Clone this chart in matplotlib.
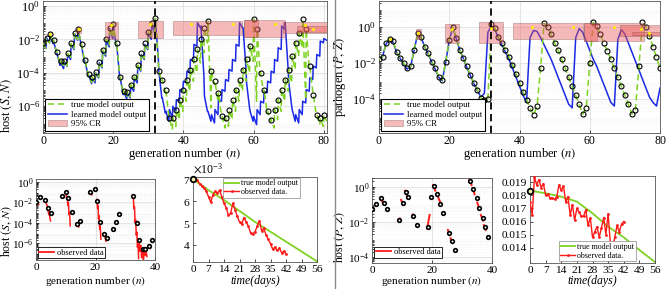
import numpy as np
import matplotlib
matplotlib.use('Agg')
import matplotlib.pyplot as plt
from matplotlib.patches import Rectangle, Patch
from matplotlib.lines import Line2D
from matplotlib.ticker import LogLocator, FixedLocator, NullFormatter, LogFormatterMathtext, FormatStrFormatter

plt.rcParams['font.family'] = ['Liberation Serif', 'DejaVu Serif']
plt.rcParams['mathtext.fontset'] = 'stix'

# ---------------- data (log10 values for log panels) ----------------
host_true = [-2.24,-1.9,-1.7,-2.04,-2.78,-3.28,-3.28,-2.84,-2.24,-1.6,
             -1.35,-2.3,-3.24,-4.08,-4.24,-3.94,-3.34,-2.64,-1.98,-1.3,
             -1.05,-2.2,-4.24,-5.08,-5.14,-4.7,-4.24,-3.54,-2.84,-2.24,
             -1.54,-1.04,-0.74,-3.9,-4.4,-5.0,-6.7,-6.7,-6.2,-5.6,
             -5.0,-4.4,-3.8,-3.2,-2.6,-2.0,-1.3,-0.9,-3.9,-4.5,
             -5.2,-6.6,-6.7,-6.2,-5.6,-5.0,-4.4,-3.8,-3.2,-2.4,
             -0.8,-1.4,-4.0,-5.0,-6.3,-6.8,-6.2,-5.6,-5.0,-4.4,
             -3.8,-3.0,-2.2,-1.6,-0.8,-1.4,-3.6,-5.3,-6.5,-6.7,-6.5]
host_true_drop = [0.3,0.3,0.5,0.7,0.7,0.4,0.3,0.3,0.3,0.4,
                  0.9,1.0,0.9,0.5,0.3,0.3,0.3,0.3,0.4,0.6,
                  1.3,2.0,1.0,0.4,0.3,0.3,0.3,0.3,0.3,0.3,
                  0.4,0.5,2.6,0.6,0.8,1.6,0.7,0.5,0.6,0.7,
                  0.7,0.7,0.7,0.8,0.8,0.8,0.9,5.2,0.8,1.2,
                  1.4,0.7,0.5,0.6,0.7,0.7,0.7,0.7,0.8,0.9,
                  4.9,2.6,1.2,1.4,0.6,0.5,0.6,0.7,0.7,0.7,
                  0.8,0.8,0.8,0.9,4.8,2.3,1.5,1.2,0.6,0.5,0.4]
host_learned = [-2.24,-1.9,-1.75,-2.1,-2.85,-3.35,-3.3,-2.9,-2.3,-1.65,
                -1.4,-2.4,-3.3,-4.15,-4.3,-4.0,-3.4,-2.7,-2.05,-1.35,
                -1.1,-2.3,-4.3,-5.15,-5.2,-4.8,-4.3,-3.6,-2.9,-2.3,
                -1.6,-1.1,-0.75,-3.9,-5.5,-6.3,-6.2,-6.0,-5.6,-5.0,
                -4.5,-3.9,-3.2,-2.3,-1.0,-1.2,-5.4,-6.3,-6.5,-6.2,
                -5.6,-5.0,-4.4,-3.8,-3.2,-2.3,-1.0,-1.3,-4.6,-6.3,
                -6.6,-6.2,-5.7,-5.1,-4.5,-3.9,-3.2,-2.5,-1.2,-1.0,
                -4.5,-6.2,-6.5,-6.2,-5.7,-5.0,-4.3,-3.6,-2.9,-2.1,-1.95]
host_learned_drop = [0.3,0.3,0.5,0.7,0.7,0.4,0.3,0.3,0.3,0.4,
                     0.9,1.0,0.9,0.5,0.3,0.3,0.3,0.3,0.4,0.6,
                     1.3,2.0,1.0,0.4,0.3,0.3,0.3,0.3,0.3,0.3,
                     0.4,0.5,2.4,1.6,0.9,0.6,0.5,0.3,0.1,0.1,
                     0.1,0.1,0.1,0.1,0.3,3.0,0.9,0.6,0.5,0.3,
                     0.1,0.1,0.1,0.1,0.1,0.1,0.3,2.5,1.5,0.6,
                     0.5,0.3,0.1,0.1,0.1,0.1,0.1,0.1,0.2,2.8,
                     1.5,0.7,0.5,0.3,0.1,0.1,0.1,0.1,0.1,0.1,0.1]

path_true = [-1.8,-1.65,-0.9,-0.67,-0.8,-1.37,-1.74,-2.0,-2.3,-2.2,
             -1.28,-0.35,-0.54,-1.1,-1.46,-1.93,-2.3,-2.76,-2.95,-1.93,
             -0.72,0.0,-0.63,-1.28,-1.74,-2.2,-2.67,-3.13,-3.5,-3.96,
             -4.05,-4.0,0.17,-0.07,-0.55,-0.9,-1.3,-1.65,-2.1,-2.6,
             -3.1,-3.6,-4.05,-4.5,-4.9,-4.4,-2.3,0.2,0.0,-0.4,
             -0.9,-1.3,-1.8,-2.3,-2.8,-3.3,-3.8,-4.3,-4.85,-4.5,
             -2.0,0.25,0.05,-0.4,-0.9,-1.35,-1.8,-2.3,-2.8,-3.3,
             -3.8,-4.3,-4.85,-4.6,-2.2,0.25,0.0,-0.5,-1.1,-1.7,-2.3]
path_learned = [-1.8,-1.65,-0.95,-0.7,-0.85,-1.4,-1.75,-2.05,-2.35,-2.2,
                -1.3,-0.4,-0.6,-1.1,-1.5,-1.95,-2.35,-2.8,-3.0,-1.95,
                -0.75,-0.05,-0.65,-1.3,-1.75,-2.25,-2.7,-3.15,-3.55,-3.9,
                -3.7,-0.3,0.05,-0.15,-0.6,-1.0,-1.4,-1.8,-2.3,-2.8,
                -3.3,-3.8,-4.2,-0.6,-0.2,-0.25,-0.6,-1.0,-1.4,-1.8,
                -2.3,-2.8,-3.3,-3.8,-4.3,-4.5,-0.6,-0.1,-0.3,-0.8,
                -1.3,-1.8,-2.2,-2.7,-3.2,-3.7,-4.2,-4.4,-0.7,-0.15,
                -0.4,-0.9,-1.4,-1.9,-2.4,-2.9,-3.4,-3.9,-4.2,-4.4,-3.4]

# 95% credible regions: generation start/end, log10 low/high
host_cr_n0 = [9.4, 17.8, 27.2, 37.1, 57.4, 57.4, 68.5, 72.5]
host_cr_n1 = [10.9, 21.4, 34.2, 56.6, 69.0, 61.3, 80.8, 80.8]
host_cr_lo = [-1.64, -2.0, -1.94, -1.74, -1.88, -1.88, -1.6, -1.58]
host_cr_hi = [-1.24, -0.94, -0.88, -0.88, -0.82, -0.82, -0.95, -1.2]
path_cr_n0 = [10.5, 18.9, 28.4, 38.2, 58.3, 58.3, 68.6, 71.9]
path_cr_n1 = [12.0, 22.7, 35.2, 58.0, 75.4, 62.0, 80.0, 80.0]
path_cr_lo = [-0.69, -0.91, -0.87, -0.69, -0.81, -0.81, -0.5, -0.44]
path_cr_hi = [-0.13, 0.17, 0.28, 0.2, 0.24, 0.24, 0.11, -0.3]

host_pred_n = [2.1, 10.3, 19.5, 30.5, 42.3, 54.2, 66.1, 74.7, 76.9]
host_pred_v = [-1.68, -1.4, -1.14, -1.08, -1.08, -1.08, -1.08, -1.14, -1.36]
path_pred_n = [3.1, 11.2, 20.9, 31.9, 43.5, 55.3, 66.9, 74.5, 77.0]
path_pred_v = [-0.67, -0.35, -0.13, -0.04, -0.02, -0.02, -0.02, -0.13, -0.35]

split_generation = 32

# bottom-left: observed host data
hobs_n = [0, 1.3, 3, 4.1, 5, 8.6, 10, 10.9, 12, 13.9, 14.8, 18.2, 19.8, 20.6, 21.5,
          22.9, 23.8, 26, 26.9, 28, 32.7, 33.8, 34.7, 35.9, 36.8, 37.9, 38.9]
hobs_v = [-1.97, -1.5, -1.74, -2.56, -3.05, -1.34, -0.98, -1.6, -2.95, -4.1, -3.77,
          -0.95, -0.66, -1.9, -3.87, -5.1, -5.44, -4.6, -3.9, -3.1, -1.4, -3.97,
          -5.7, -6.6, -6.6, -6.3, -5.7]
host_seg_n = [[0.0, 0.3, 0.6, 0.9], [2.8, 3.2, 3.6, 3.9], [4.0, 4.3, 4.5, 4.7, 4.9],
              [8.6, 9.0, 9.4], [10.0, 10.3, 10.5, 10.7, 10.9, 11.1, 11.3, 11.5],
              [13.6, 14.0, 14.4], [18.0, 18.4, 18.8],
              [20.5, 20.7, 20.9, 21.0, 21.2, 21.4, 21.6, 21.8], [22.9, 23.2, 23.5],
              [25.8, 26.2, 26.6],
              [32.7, 32.9, 33.1, 33.3, 33.5, 33.7, 33.9, 34.1, 34.3, 34.5],
              [34.6, 34.9, 35.2, 35.5, 35.8, 36.1, 36.4, 36.7, 37.0, 37.3],
              [37.8, 38.1, 38.4]]
host_seg_v = [[-1.9, -2.0, -2.1, -2.2], [-1.75, -1.95, -2.2, -2.45], [-2.7, -3.2, -2.9, -3.6, -3.8],
              [-1.35, -1.42, -1.5], [-1.0, -1.6, -1.4, -2.3, -2.0, -3.2, -3.0, -4.3],
              [-4.0, -4.2, -4.4], [-0.9, -1.05, -1.25],
              [-1.7, -2.6, -2.3, -3.6, -3.3, -4.6, -4.3, -5.6], [-5.1, -5.4, -5.8],
              [-4.6, -4.65, -4.75],
              [-1.4, -2.6, -2.4, -4.0, -3.7, -5.2, -4.9, -6.4, -6.1, -7.5],
              [-5.7, -6.8, -6.2, -7.4, -6.6, -7.6, -6.9, -7.2, -6.8, -7.3],
              [-6.3, -6.4, -6.5]]

# bottom-right: observed pathogen data
pobs_n = [0.1, 1.2, 3, 4, 5.1, 9, 10.2, 11.3, 12.1, 13.8, 14.9, 18.7, 19.7, 20.8,
          21.6, 22.7, 23.8, 25.6, 26.6, 27.7, 32.7, 33.8, 34.9, 35.8, 36.9, 37.7, 38.6]
pobs_v = [-1.28, -0.98, -0.66, -0.94, -1.28, -1.89, -0.94, -0.32, -0.57, -1.66, -2.17,
          -2.3, -0.57, 0.04, -0.42, -0.98, -1.47, -2.6, -3.1, -3.6, 0.34, -0.13, -0.66,
          -1.23, -1.75, -2.3, -2.87]
path_seg_n = [[2.67, 3.56], [3.8, 4.3], [8.8, 9.3], [9.7, 10.2], [11.0, 11.6], [13.6, 14.0],
              [18.4, 19.2], [20.4, 21.1], [22.1, 22.9], [25.3, 25.9], [26.2, 26.9],
              [32.4, 33.2], [33.6, 34.2], [35.1, 35.7], [36.3, 37.0], [37.3, 37.9]]
path_seg_v = [[-0.62, -0.89], [-0.85, -1.04], [-1.89, -1.8], [-0.75, -0.94], [-0.23, -0.47],
              [-1.57, -1.7], [-2.36, -1.6], [0.09, -0.23], [-0.62, -0.94], [-2.45, -2.74],
              [-2.92, -3.2], [0.43, 0.09], [-0.09, -0.43], [-0.9, -1.23], [-1.6, -1.92],
              [-2.17, -2.45]]

# within-season time series
days_obs = list(range(43))
host_ts_obs = [7.05, 7.0, 6.95, 6.8, 6.7, 6.6, 6.45, 6.2, 5.95, 6.3, 6.45, 6.35, 6.5, 6.2,
               5.9, 5.7, 5.35, 5.45, 5.9, 5.6, 5.3, 5.05, 4.95, 5.25, 5.05, 4.85, 4.55,
               4.5, 4.6, 4.85, 5.1, 4.65, 4.75, 4.45, 4.25, 4.05, 3.8, 3.9, 3.75, 3.85,
               3.65, 3.7, 3.6]  # x 1e-3
days_true = [0, 7, 14, 21, 28, 35, 42, 49, 56]
host_ts_true = [7.0, 6.5, 6.05, 5.55, 5.05, 4.6, 4.15, 3.7, 3.25]  # x 1e-3
path_ts_obs = [0.0175, 0.0165, 0.0194, 0.0188, 0.0192, 0.0186, 0.0189, 0.0180, 0.0181,
               0.0178, 0.0178, 0.0177, 0.0179, 0.0188, 0.0184, 0.0187, 0.0175, 0.0179,
               0.0165, 0.0173, 0.0161, 0.0170, 0.0167, 0.0164, 0.0164, 0.0169, 0.0157,
               0.0163, 0.0148, 0.0152, 0.0156, 0.0148, 0.0155, 0.0163, 0.0150, 0.0166,
               0.0143, 0.0140, 0.0148, 0.0157, 0.0152, 0.0158, 0.0160]
path_ts_true = [0.01836, 0.01816, 0.0179, 0.01752, 0.01663, 0.01561, 0.01479, 0.01382, 0.0129]

# ---------------- styling ----------------
GREEN = '#7ed321'
BLUE = '#1a2ae6'
RED = '#ff1a1a'
CRFACE = (0.93, 0.33, 0.33)
CREDGE = (0.45, 0.3, 0.3)
W, H = 667, 289


def rect(l, r, t, b):
    return [l / W, 1 - b / H, (r - l) / W, (b - t) / H]


fig = plt.figure(figsize=(6.67, 2.89), dpi=100)
ax1 = fig.add_axes(rect(43, 326.6, 1, 133))
ax2 = fig.add_axes(rect(379, 660, 1, 133))
ax3 = fig.add_axes(rect(36, 155, 179, 260))
ax4 = fig.add_axes(rect(193, 317, 177, 262))
ax5 = fig.add_axes(rect(372, 492, 178, 263))
ax6 = fig.add_axes(rect(530, 655, 176, 263))


def style(ax, fs):
    for s in ax.spines.values():
        s.set_color('#555555')
        s.set_linewidth(0.6)
    ax.tick_params(which='both', direction='in', labelsize=fs, width=0.5, pad=2)
    ax.tick_params(which='major', length=2.5)
    ax.tick_params(which='minor', length=1.2)


def logstyle(ax, lo, hi, majors, fs):
    ax.set_yscale('log')
    ax.set_ylim(10 ** lo, 10 ** hi)
    ax.yaxis.set_major_locator(FixedLocator([10.0 ** m for m in majors]))
    ax.yaxis.set_major_formatter(LogFormatterMathtext())
    ax.yaxis.set_minor_locator(LogLocator(base=10, subs=np.arange(2, 10), numticks=50))
    ax.yaxis.set_minor_formatter(NullFormatter())
    ax.grid(True, which='major', color='#d9d9d9', lw=0.5)
    ax.grid(True, which='minor', axis='y', color='#ececec', lw=0.4, ls=':')
    ax.set_axisbelow(True)
    style(ax, fs)


def season_path(starts, drops, frac=0.85):
    xs, ys = [], []
    for i, (s, d) in enumerate(zip(starts, drops)):
        xs += [i, i + frac]
        ys += [s, s - d]
    return np.array(xs), 10.0 ** np.array(ys)


gen = np.arange(len(host_true))

# ---- top-left: host ----
bx, by = season_path(host_learned, host_learned_drop)
gx, gy = season_path(host_true, host_true_drop)
ax1.plot(bx, by, color=BLUE, lw=1.1, zorder=2)
ax1.plot(gx, gy, color=GREEN, lw=1.1, ls=(0, (4, 2.5)), zorder=3)
ax1.plot(gen, 10.0 ** np.array(host_true), 'o', ms=3.6, mfc='none', mec='black', mew=0.8, zorder=4)
for a, b, lo, hi in zip(host_cr_n0, host_cr_n1, host_cr_lo, host_cr_hi):
    ax1.add_patch(Rectangle((a, 10 ** lo), b - a, 10 ** hi - 10 ** lo, facecolor=CRFACE,
                            alpha=0.4, edgecolor=CREDGE, lw=0.6, zorder=5))
ax1.plot(host_pred_n, 10.0 ** np.array(host_pred_v), 'o', ms=2.2, color='#ffee00', mew=0, zorder=6)
ax1.axvline(split_generation, color='black', ls=(0, (4, 2.5)), lw=1.3, zorder=7)
ax1.set_xlim(0, 80.8)
ax1.set_xticks([0, 20, 40, 60, 80])
logstyle(ax1, -7.6, 0.3, [-6, -4, -2, 0], 9)
ax1.tick_params(axis='x', labelsize=8.5, pad=1.5)
ax1.set_xlabel('generation number $(n)$', fontsize=9)
ax1.xaxis.set_label_coords(0.5, -0.1)
ax1.set_ylabel('host $(S,\\,N)$', fontsize=9)
ax1.yaxis.set_label_coords(-0.103, 0.21)

# ---- top-right: pathogen ----
ax2.plot(gen, 10.0 ** np.array(path_learned), color=BLUE, lw=1.1, zorder=2)
ax2.plot(gen, 10.0 ** np.array(path_true), color=GREEN, lw=1.1, ls=(0, (4, 2.5)), zorder=3)
ax2.plot(gen, 10.0 ** np.array(path_true), 'o', ms=3.6, mfc='none', mec='black', mew=0.8, zorder=4)
for a, b, lo, hi in zip(path_cr_n0, path_cr_n1, path_cr_lo, path_cr_hi):
    ax2.add_patch(Rectangle((a, 10 ** lo), b - a, 10 ** hi - 10 ** lo, facecolor=CRFACE,
                            alpha=0.4, edgecolor=CREDGE, lw=0.6, zorder=5))
ax2.plot(path_pred_n, 10.0 ** np.array(path_pred_v), 'o', ms=2.2, color='#ffee00', mew=0, zorder=6)
ax2.axvline(split_generation, color='black', ls=(0, (4, 2.5)), lw=1.3, zorder=7)
ax2.set_xlim(0, 80)
ax2.set_xticks([0, 20, 40, 60, 80])
logstyle(ax2, -5.9, 1.44, [-4, -2, 0], 9)
ax2.tick_params(axis='x', labelsize=8.5, pad=1.5)
ax2.set_xlabel('generation number $(n)$', fontsize=9)
ax2.xaxis.set_label_coords(0.5, -0.1)
ax2.set_ylabel('pathogen $(P,\\,Z)$', fontsize=9)
ax2.yaxis.set_label_coords(-0.11, 0.42)

top_handles = [Line2D([], [], color=GREEN, lw=1.1, ls=(0, (4, 2.5))),
               Line2D([], [], color=BLUE, lw=1.1),
               Patch(facecolor=CRFACE, alpha=0.4, edgecolor=CREDGE, lw=0.6)]
top_labels = ['true model output', 'learned model output', '95% CR']
for ax in (ax1, ax2):
    lg = ax.legend(top_handles, top_labels, loc='lower left', fontsize=6.3, fancybox=False,
                   framealpha=1, edgecolor='black', borderaxespad=0.25, handlelength=2.2,
                   labelspacing=0.15, borderpad=0.3, handletextpad=0.5)
    lg.get_frame().set_linewidth(0.8)
    lg.set_zorder(10)

# ---- bottom-left: observed host data by generation ----
for xs, vs in zip(host_seg_n, host_seg_v):
    ax3.plot(xs, 10.0 ** np.array(vs), color=RED, lw=1.1, zorder=2)
ax3.plot(hobs_n, 10.0 ** np.array(hobs_v), 'o', ms=2.6, mfc='white', mec='black', mew=1.2, ls='none', zorder=3)
ax3.set_xlim(0, 40)
ax3.set_xticks([0, 20, 40])
logstyle(ax3, -7.64, 0.3, [-6, -4, -2, 0], 8)
ax3.set_xlabel('generation number $(n)$', fontsize=8)
ax3.xaxis.set_label_coords(0.5, -0.17)
ax3.set_ylabel('host $(S,\\,N)$', fontsize=8.5)
ax3.yaxis.set_label_coords(-0.185, 0.36)
lg = ax3.legend([Line2D([], [], color=RED, lw=1.3)], ['observed data'], loc='lower left',
                fontsize=6, fancybox=False, framealpha=1, edgecolor='black', borderaxespad=0.2,
                handlelength=1.8, borderpad=0.2, handletextpad=0.3)
lg.get_frame().set_linewidth(0.6)

# ---- bottom-left 2: host within-season ----
ax4.plot(days_true, np.array(host_ts_true) * 1e-3, color=GREEN, lw=1.3, zorder=2)
ax4.plot(days_obs, np.array(host_ts_obs) * 1e-3, color=RED, lw=1.0, marker='.', ms=2.0, zorder=3)
ax4.plot([days_true[0]], [host_ts_true[0] * 1e-3], 'o', ms=4, mfc='#f3efb0', mec='black', mew=1.3, zorder=4, clip_on=False)
ax4.set_xlim(0, 56)
ax4.set_ylim(3.22e-3, 7.1e-3)
ax4.set_xticks([0, 7, 14, 21, 28, 35, 42, 49, 56])
ax4.set_yticks([4e-3, 5e-3, 6e-3, 7e-3])
ax4.ticklabel_format(axis='y', style='sci', scilimits=(0, 0), useMathText=True)
ax4.yaxis.get_offset_text().set_fontsize(8.5)
style(ax4, 8.2)
ax4.set_xlabel('time(days)', fontsize=8.5, fontstyle='italic')
ax4.xaxis.set_label_coords(0.5, -0.15)
lg = ax4.legend([Line2D([], [], color=GREEN, lw=1.3), Line2D([], [], color=RED, lw=1.0, marker='.', ms=2)],
                ['true model output', 'observed data.'], loc='upper left', bbox_to_anchor=(0.24, 0.99),
                fontsize=5.8, fancybox=False, framealpha=1, edgecolor='#888888', borderaxespad=0,
                handlelength=1.8, borderpad=0.2, handletextpad=0.3, labelspacing=0.1)
lg.get_frame().set_linewidth(0.5)

# ---- bottom-right 1: observed pathogen data by generation ----
for xs, vs in zip(path_seg_n, path_seg_v):
    ax5.plot(xs, 10.0 ** np.array(vs), color=RED, lw=1.4, zorder=2)
ax5.plot(pobs_n, 10.0 ** np.array(pobs_v), 'o', ms=2.6, mfc='white', mec='black', mew=1.2, ls='none', zorder=3)
ax5.set_xlim(0, 40)
ax5.set_xticks([0, 20, 40])
logstyle(ax5, -4.32, 0.49, [-4, -2, 0], 8)
ax5.set_xlabel('generation number $(n)$', fontsize=8)
ax5.xaxis.set_label_coords(0.5, -0.13)
ax5.set_ylabel('host $(P,\\,Z)$', fontsize=8.5)
ax5.yaxis.set_label_coords(-0.21, 0.3)
lg = ax5.legend([Line2D([], [], color=RED, lw=1.3)], ['observed data'], loc='lower left',
                bbox_to_anchor=(0.02, 0.06), fontsize=6, fancybox=False, framealpha=1,
                edgecolor='black', borderaxespad=0, handlelength=1.8, borderpad=0.2, handletextpad=0.3)
lg.get_frame().set_linewidth(0.6)

# ---- bottom-right 2: pathogen within-season ----
ax6.plot(days_true, path_ts_true, color=GREEN, lw=1.3, zorder=2)
ax6.plot(days_obs, path_ts_obs, color=RED, lw=1.0, marker='.', ms=2.0, zorder=3)
ax6.plot([days_true[0]], [path_ts_true[0]], 'o', ms=4, mfc='#f3efb0', mec='black', mew=1.3, zorder=4, clip_on=False)
ax6.set_xlim(0, 56)
ax6.set_ylim(0.012826, 0.01948)
ax6.set_xticks([0, 7, 14, 21, 28, 35, 42, 49, 56])
ax6.set_yticks([0.014, 0.015, 0.016, 0.017, 0.018, 0.019])
ax6.yaxis.set_major_formatter(FormatStrFormatter('%.3f'))
style(ax6, 8.2)
ax6.set_xlabel('time(days)', fontsize=8.5, fontstyle='italic')
ax6.xaxis.set_label_coords(0.5, -0.14)
lg = ax6.legend([Line2D([], [], color=GREEN, lw=1.3), Line2D([], [], color=RED, lw=1.0, marker='.', ms=2)],
                ['true model output', 'observed data.'], loc='lower left', bbox_to_anchor=(0.23, 0.02),
                fontsize=5.8, fancybox=False, framealpha=1, edgecolor='#888888', borderaxespad=0,
                handlelength=1.8, borderpad=0.2, handletextpad=0.3, labelspacing=0.1)
lg.get_frame().set_linewidth(0.5)

# separator between host and pathogen halves
fig.add_artist(Line2D([335 / W, 335 / W], [0, 1], color='#8a8a8a', lw=1.0))

fig.savefig('out.png', dpi=100)
